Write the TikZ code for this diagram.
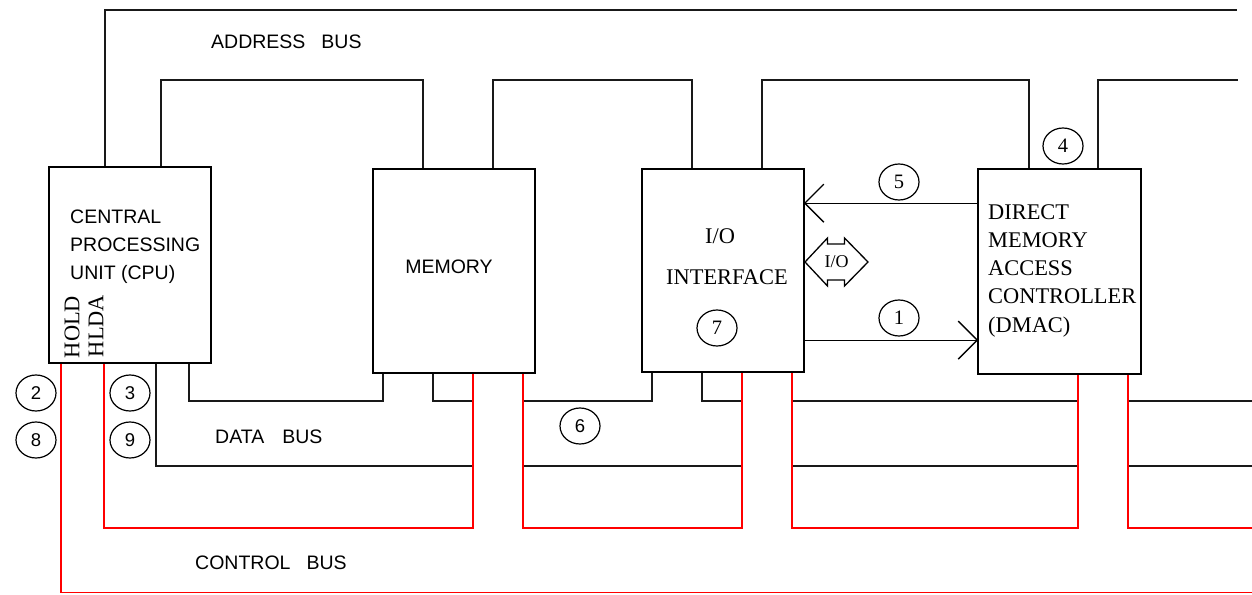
\documentclass[tikz,border=0pt]{standalone}
\usepackage{fontspec}
\setmainfont{Liberation Serif}
\setsansfont{Liberation Sans}
\usetikzlibrary{shapes.geometric,arrows.meta}
\begin{document}
\begin{tikzpicture}[x=1pt,y=-1pt,
  box/.style={line width=1.6pt, minimum width=160pt, inner sep=0pt},
  bus/.style={line width=1.6pt, black!90},
  ctrl/.style={line width=1.6pt, red},
  num/.style={draw, ellipse, line width=1.2pt, minimum width=40pt, minimum height=36pt, inner sep=0pt, font=\fontsize{20.5}{20.5}\selectfont},
  numsans/.style={num, font=\sffamily\fontsize{18.5}{18.5}\selectfont},
  sanslbl/.style={font=\sffamily\fontsize{19.5}{28}\selectfont, inner sep=0pt},
  seriflbl/.style={font=\fontsize{22.4}{28.3}\selectfont, inner sep=0pt},
  barb/.style={line width=1.4pt, -{Straight Barb[length=19pt,width=38pt]}}
]
\useasboundingbox (0,0) rectangle (1252,594);

% boxes
\node[box, minimum height=194pt] (cpu) at (130,265) {};
\node[box, minimum height=202pt] (mem) at (454,271) {};
\node[box, minimum height=201pt] (io) at (723,270.5) {};
\node[box, minimum width=161pt, minimum height=203pt] (dmac) at (1059.5,271.5) {};

% attachment points
\coordinate (ca1) at ([xshift=56pt]cpu.north west);
\coordinate (ca2) at ([xshift=112pt]cpu.north west);
\coordinate (cb1) at ([xshift=12pt]cpu.south west);
\coordinate (cb2) at ([xshift=55pt]cpu.south west);
\coordinate (cb3) at ([xshift=107pt]cpu.south west);
\coordinate (cb4) at ([xshift=140pt]cpu.south west);
\coordinate (ma1) at ([xshift=50pt]mem.north west);
\coordinate (ma2) at ([xshift=120pt]mem.north west);
\coordinate (mb1) at ([xshift=10pt]mem.south west);
\coordinate (mb2) at ([xshift=60pt]mem.south west);
\coordinate (mb3) at ([xshift=100pt]mem.south west);
\coordinate (mb4) at ([xshift=150pt]mem.south west);
\coordinate (ia1) at ([xshift=50pt]io.north west);
\coordinate (ia2) at ([xshift=120pt]io.north west);
\coordinate (ib1) at ([xshift=10pt]io.south west);
\coordinate (ib2) at ([xshift=60pt]io.south west);
\coordinate (ib3) at ([xshift=100pt]io.south west);
\coordinate (ib4) at ([xshift=150pt]io.south west);
\coordinate (da1) at ([xshift=51pt]dmac.north west);
\coordinate (da2) at ([xshift=120pt]dmac.north west);
\coordinate (db1) at ([xshift=100pt]dmac.south west);
\coordinate (db2) at ([xshift=150pt]dmac.south west);

% bus levels
\coordinate (yT) at (0,10);
\coordinate (yA) at (0,80);
\coordinate (yB) at (0,401);
\coordinate (yC) at (0,466);
\coordinate (yD) at (0,528);
\coordinate (yE) at (0,592.5);
\coordinate (xR) at (1252,0);
\coordinate (xT) at (1237,0);
\coordinate (xA) at (1238,0);

% address bus
\draw[bus] (ca1) |- (xT |- yT);
\draw[bus] (ca2) -- (ca2 |- yA) -| (ma1);
\draw[bus] (ma2) -- (ma2 |- yA) -| (ia1);
\draw[bus] (ia2) -- (ia2 |- yA) -| (da1);
\draw[bus] (da2) |- (xA |- yA);

% data bus
\draw[bus] (cb4) -- (cb4 |- yB) -| (mb1);
\draw[bus] (cb3) |- (mb3 |- yC);
\draw[bus] (mb2) |- (mb3 |- yB);
\draw[bus] (ib1) |- (mb4 |- yB);
\draw[bus] (ib2) |- (ib3 |- yB);
\draw[bus] (mb4 |- yC) -- (ib3 |- yC);
\draw[bus] (ib4 |- yB) -- (db1 |- yB);
\draw[bus] (ib4 |- yC) -- (db1 |- yC);
\draw[bus] (db2 |- yB) -- (xR |- yB);
\draw[bus] (db2 |- yC) -- (xR |- yC);

% control bus
\draw[ctrl] (cb1) |- (xR |- yE);
\draw[ctrl] (cb2) -- (cb2 |- yD) -| (mb3);
\draw[ctrl] (mb4) -- (mb4 |- yD) -| (ib3);
\draw[ctrl] (ib4) -- (ib4 |- yD) -| (db1);
\draw[ctrl] (db2) |- (xR |- yD);

% box outlines on top of the bus ends
\draw[line width=1.6pt] (cpu.north west) rectangle (cpu.south east);
\draw[line width=1.6pt] (mem.north west) rectangle (mem.south east);
\draw[line width=1.6pt] (io.north west) rectangle (io.south east);
\draw[line width=1.6pt] (dmac.north west) rectangle (dmac.south east);

% DMA <-> I/O arrows
\coordinate (s5) at ([yshift=-34pt]dmac.north west);
\coordinate (s1) at ([yshift=-171pt]io.north east);
\draw[barb] (s5) -- (s5 -| io.east);
\draw[barb] (s1) -- (s1 -| dmac.west);

% I/O double arrow
\node[font=\fontsize{18}{18}\selectfont, inner sep=0pt] (iolbl) at (836.5,262) {I/O};
\draw[line width=1.3pt, shift={(iolbl.center)}]
  (-31.5,0) -- (-9,-24) -- (-9,-18) -- (8,-18) -- (8,-24) -- (31.5,0)
  -- (8,24) -- (8,18) -- (-9,18) -- (-9,24) -- cycle;

% box texts
\node[sanslbl, anchor=north west, align=left] (cputxt) at (70,210) {CENTRAL\\PROCESSING\\UNIT (CPU)};
\node[seriflbl, rotate=90] (hold) at (72,327) {HOLD};
\node[seriflbl, rotate=90] (hlda) at (96,326) {HLDA};
\node[sanslbl] (memtxt) at (449,267) {MEMORY};
\node[seriflbl] (iotxt1) at (720,236) {I/O};
\node[seriflbl] (iotxt2) at (727,277) {INTERFACE};
\node[seriflbl, anchor=north west, align=left] (dmactxt) at (988,204) {DIRECT\\MEMORY\\ACCESS\\CONTROLLER\\(DMAC)};

% bus labels
\node[sanslbl, anchor=west] (abus) at (211,42) {ADDRESS\hspace{16pt}BUS};
\node[sanslbl, anchor=west] (dbus) at (215,437) {DATA\hspace{18pt}BUS};
\node[sanslbl, anchor=west] (cbus) at (195,563) {CONTROL\hspace{16pt}BUS};

% numbered circles
\node[num] (n1) at (899,318) {1};
\node[numsans] (n2) at (36,393) {2};
\node[numsans] (n3) at (130,393) {3};
\node[num] (n4) at (1063,146) {4};
\node[num] (n5) at (899,182) {5};
\node[numsans] (n6) at (580,426) {6};
\node[num] (n7) at (717,328) {7};
\node[numsans] (n8) at (36,440) {8};
\node[numsans] (n9) at (130,440) {9};
\end{tikzpicture}
\end{document}
